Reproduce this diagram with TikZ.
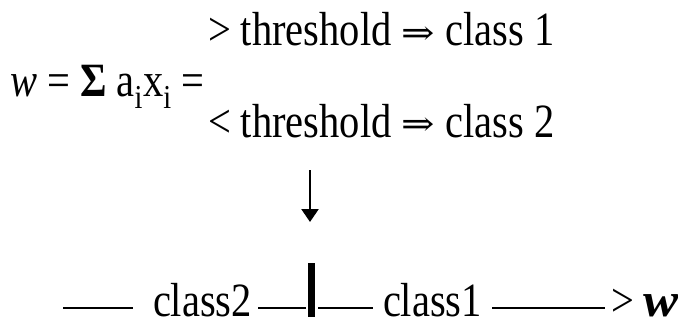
\documentclass[tikz,border=0pt]{standalone}
\usepackage{fontspec}
\usepackage{graphicx}
\setmainfont{Liberation Serif}
\newfontfamily\arrowfont{DejaVu Serif}
\usetikzlibrary{arrows.meta}
\tikzset{
  txt/.style={anchor=base west, inner sep=0pt, outer sep=0pt, font=\fontsize{40.5}{42}\selectfont},
  rule/.style={line width=2pt},
  bar/.style={line width=6.5pt},
}
\newcommand{\impl}{\raisebox{1pt}{\scalebox{1.05}[0.75]{\arrowfont\fontsize{38}{38}\selectfont ⇒}}}
\newcommand{\tall}[1]{\scalebox{1}[1.18]{#1}}
\begin{document}
\begin{tikzpicture}[x=1pt,y=-1pt]
\useasboundingbox (0,0) rectangle (678,321);
\node[txt] (l1) at (208,46) {\tall{> threshold \impl{} class 1}};
\node[txt] (eq) at (10,96) {\tall{\textit{w} = \textbf{Σ} a\textsubscript{i}x\textsubscript{i} =}};
\node[txt] (l3) at (208,137) {\tall{< threshold \impl{} class 2}};
\coordinate (atop) at (310,170);
\coordinate (abot) at (310,222);
\draw[line width=2.5pt, -{Triangle[width=17pt,length=13pt]}] (atop) -- (abot);
\node[txt] (c2) at (153,316) {\tall{class2}};
\node[txt] (c1) at (383,316) {\tall{class1}};
\node[txt] (gt) at (611,316) {\tall{> \scalebox{1.3}[1]{\textbf{\textit{w}}}}};
\coordinate (d0) at (63,308);
\coordinate (d1) at (133,308);
\coordinate (d2) at (258,308);
\coordinate (d3) at (306,308);
\coordinate (d4) at (318,308);
\coordinate (d5) at (373,308);
\coordinate (d6) at (492,308);
\coordinate (d7) at (605,308);
\coordinate (btop) at (311.5,263);
\coordinate (bbot) at (311.5,317);
\draw[rule] (d0) -- (d1);
\draw[rule] (d2) -- (d3);
\draw[rule] (d4) -- (d5);
\draw[rule] (d6) -- (d7);
\draw[bar] (btop) -- (bbot);
\end{tikzpicture}
\end{document}
